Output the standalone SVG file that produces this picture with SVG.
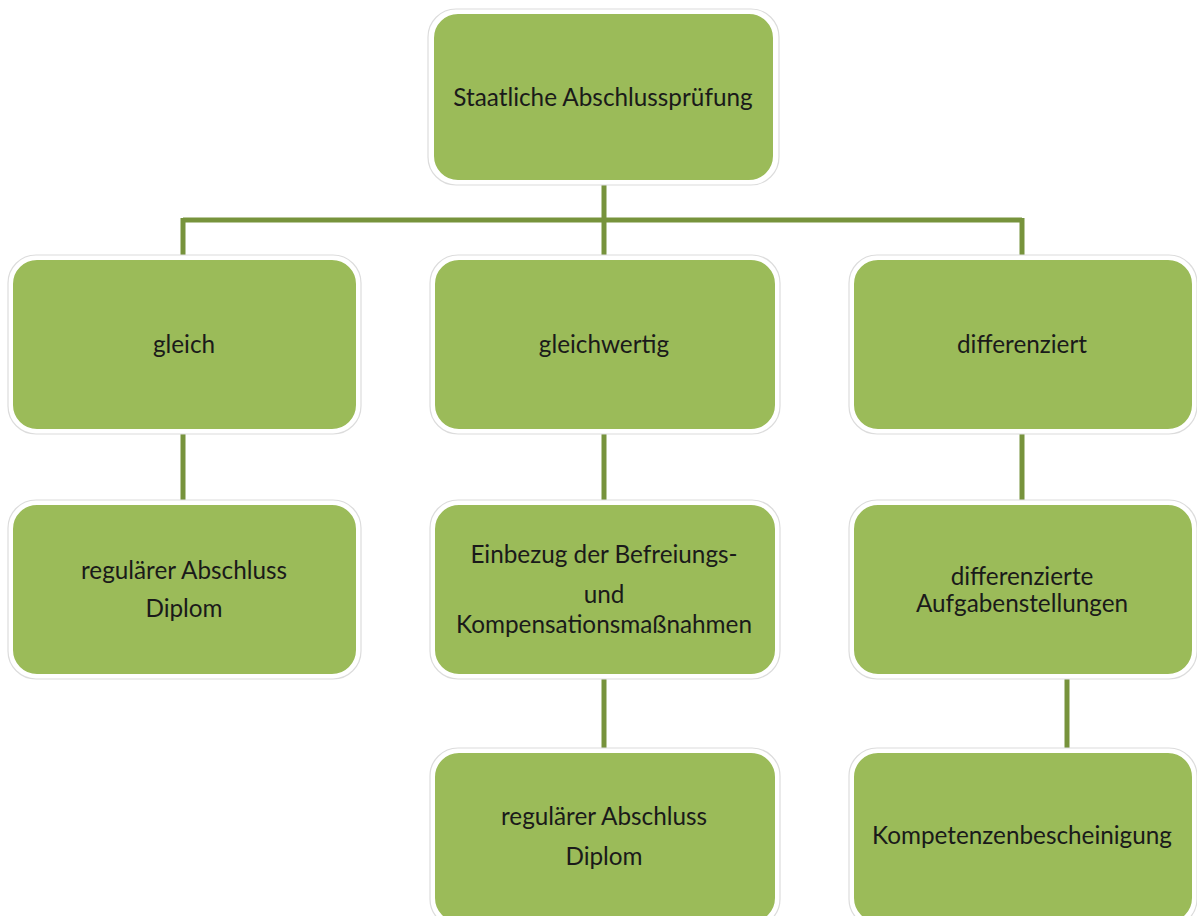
<svg xmlns="http://www.w3.org/2000/svg" width="1197" height="916" viewBox="0 0 1197 916">
<style>
.halo{fill:#fff;stroke:#dcdcdc;stroke-width:1.2}
.box{fill:#9bbb59;stroke:#fff;stroke-width:2}
.t{font-family:Lato,"Open Sans",sans-serif;font-size:24.3px;fill:#1a1a1a;text-anchor:middle}
.c{stroke:#77933c;stroke-width:5;fill:none}
</style>
<rect width="1197" height="916" fill="#fff"/>
<g id="connectors">
<path class="c" d="M604 181V220M183 220H1022M183 218V259M604 218V259M1022 218V259"/>
<path class="c" d="M183 430V504M604 430V504M1022 430V504"/>
<path class="c" d="M604 675V752M1067 675V752"/>
</g>
<g id="n-root"><rect class="halo" x="428" y="9" width="351" height="176" rx="28"/><rect class="box" x="433" y="13" width="341" height="168" rx="25"/><text class="t" x="603" y="106">Staatliche Abschlussprüfung</text></g>
<g id="n-gleich"><rect class="halo" x="8" y="255" width="353" height="179" rx="28"/><rect class="box" x="12" y="259" width="345" height="171" rx="25"/><text class="t" x="184" y="353">gleich</text></g>
<g id="n-gleichwertig"><rect class="halo" x="430" y="255" width="350" height="179" rx="28"/><rect class="box" x="434" y="259" width="342" height="171" rx="25"/><text class="t" x="604" y="353">gleichwertig</text></g>
<g id="n-diff"><rect class="halo" x="849" y="255" width="348" height="179" rx="28"/><rect class="box" x="853" y="259" width="340" height="171" rx="25"/><text class="t" x="1022" y="353">differenziert</text></g>
<g id="n-regulaer1"><rect class="halo" x="8" y="500" width="353" height="179" rx="28"/><rect class="box" x="12" y="504" width="345" height="171" rx="25"/><text class="t" x="184" y="579">regulärer Abschluss</text><text class="t" x="184" y="617">Diplom</text></g>
<g id="n-einbezug"><rect class="halo" x="430" y="500" width="350" height="179" rx="28"/><rect class="box" x="434" y="504" width="342" height="171" rx="25"/><text class="t" x="604" y="563">Einbezug der Befreiungs-</text><text class="t" x="604" y="603">und</text><text class="t" x="604" y="633">Kompensationsmaßnahmen</text></g>
<g id="n-aufgaben"><rect class="halo" x="849" y="500" width="348" height="179" rx="28"/><rect class="box" x="853" y="504" width="340" height="171" rx="25"/><text class="t" x="1022" y="585">differenzierte</text><text class="t" x="1022" y="612">Aufgabenstellungen</text></g>
<g id="n-regulaer2"><rect class="halo" x="430" y="748" width="350" height="179" rx="28"/><rect class="box" x="434" y="752" width="342" height="171" rx="25"/><text class="t" x="604" y="825">regulärer Abschluss</text><text class="t" x="604" y="865">Diplom</text></g>
<g id="n-kompetenz"><rect class="halo" x="849" y="748" width="348" height="179" rx="28"/><rect class="box" x="853" y="752" width="340" height="171" rx="25"/><text class="t" x="1022" y="844">Kompetenzenbescheinigung</text></g>
</svg>
